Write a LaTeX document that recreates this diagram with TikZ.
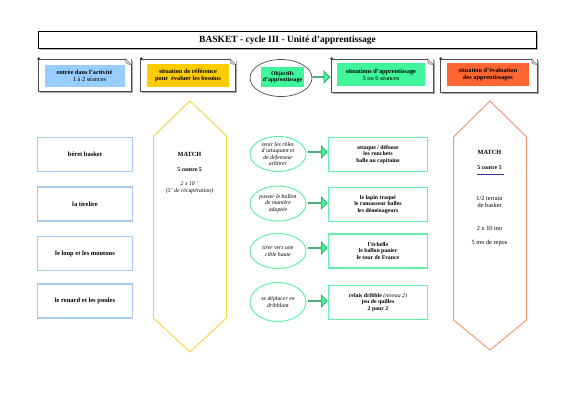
\documentclass[tikz,border=0pt]{standalone}
\usepackage{fontspec}
\setmainfont{Liberation Serif}
\usetikzlibrary{calc,shapes.geometric,shapes.arrows,shadows}
\definecolor{cblue}{HTML}{99CCFF}
\definecolor{corange}{HTML}{FFCC00}
\definecolor{cgreen}{HTML}{40F59A}
\definecolor{cred}{HTML}{FF6633}
\definecolor{gline}{HTML}{66EEA6}
\definecolor{bline}{HTML}{A6CCF2}
\definecolor{yline}{HTML}{F8D040}
\definecolor{oline}{HTML}{F4936A}
\definecolor{dgreen}{HTML}{2E8B57}
\tikzset{
  hdr/.style={draw=black!70, line width=0.6pt, fill=white, drop shadow={shadow xshift=1.5pt, shadow yshift=-1.5pt, fill=black!35, opacity=1}},
  hdrin/.style={inner sep=0pt, align=center, font=\fontsize{6.3}{7.3}\selectfont\bfseries},
  leftbox/.style={draw=bline, line width=1.3pt, minimum width=95pt, minimum height=34pt, font=\fontsize{6.5}{7.5}\selectfont\bfseries, align=center},
  greenbox/.style={draw=gline, line width=1.3pt, minimum width=99pt, minimum height=34pt, font=\fontsize{5.8}{6.8}\selectfont\bfseries, align=center},
  obj/.style={ellipse, draw=gline, line width=1pt, minimum width=56pt, minimum height=35pt, inner sep=0pt, font=\fontsize{5.8}{6.6}\selectfont\itshape, align=center},
  garrow/.style={single arrow, draw=dgreen, fill=cgreen, line width=0.5pt, minimum height=19pt, minimum width=12pt, single arrow head extend=2pt, inner sep=0pt},
  txt/.style={inner sep=0pt, align=center, font=\fontsize{6.3}{7.3}\selectfont},
}
\newcommand\foldpin[1]{%
  \fill[white] (#1.north east) -- ++(-6,0) -- ++(6,6) -- cycle;
  \filldraw[fill=black!15, draw=black!60, line width=0.4pt] ($(#1.north east)+(-6,0)$) -- ++(6,6) -- ++(-5,-1) -- cycle;
  \fill[black!75] ($(#1.north west)+(1,0)$) circle (1.6);
}
\begin{document}
\begin{tikzpicture}[x=1pt,y=-1pt]
\useasboundingbox (0,0) rectangle (565,400);
% title
\node[draw=black, line width=1.4pt, fill=white, minimum width=498pt, minimum height=17pt, font=\fontsize{9.5}{10.5}\selectfont\bfseries, drop shadow={shadow xshift=1pt, shadow yshift=-1pt, fill=black!30, opacity=1}] (title) at (287.5,40) {BASKET - cycle III - Unité d'apprentissage};

% header boxes
\node[hdr, minimum width=93pt, minimum height=32pt] (h1) at (84.5,75) {};
\node[hdrin, fill=cblue, minimum width=80pt, minimum height=22pt] (h1t) at (84.5,75.5) {entrée dans l'activité\\[-0.5pt]\mdseries\hspace*{10pt}1 à 2 séances};
\foldpin{h1}
\node[hdr, minimum width=95pt, minimum height=32pt] (h2) at (188,75) {};
\node[hdrin, fill=corange, minimum width=82pt, minimum height=23pt] (h2t) at (188,75.5) {situation de référence\\[-0.5pt]pour \ évaluer les besoins};
\foldpin{h2}
\node[ellipse, draw=black!70, line width=0.7pt, fill=white, minimum width=62pt, minimum height=37pt] (h3) at (281,78) {};
\node[hdrin, fill=cgreen, minimum width=43pt, minimum height=20pt, font=\fontsize{5.8}{6.8}\selectfont\bfseries] (h3t) at (282.5,77) {Objectifs\\d'apprentissage};
\node[garrow, minimum height=17pt] (h3a) at (321,77) {};
\node[hdr, minimum width=102pt, minimum height=33pt] (h4) at (382,75.5) {};
\node[hdrin, fill=cgreen, minimum width=88pt, minimum height=23pt] (h4t) at (381,74.5) {situations d'apprentissage\\[-0.5pt]\mdseries 5 ou 6 séances};
\foldpin{h4}
\node[hdr, minimum width=97pt, minimum height=33pt] (h5) at (488.5,75.5) {};
\node[hdrin, fill=cred, minimum width=82pt, minimum height=23pt] (h5t) at (488,74.5) {situation d'évaluation\\[-0.5pt]des apprentissages};
\foldpin{h5}
\draw[draw=none] (h3) -- (h3a) -- (h4);

% left boxes
\node[leftbox] (l1) at (85,154.5) {béret basket};
\node[leftbox] (l2) at (85,204) {la tirelire};
\node[leftbox] (l3) at (85,253.5) {le loup et les moutons};
\node[leftbox] (l4) at (85,301) {le renard et les poules};

% yellow hexagon
\draw[yline, line width=0.9pt] (190,101) -- (226.5,136) -- (226.5,318) -- (190,352) -- (153.5,318) -- (153.5,136) -- cycle;
\node[txt, font=\fontsize{6.3}{7.3}\selectfont\bfseries] (ym) at (189.5,154) {MATCH};
\node[txt, font=\fontsize{5.8}{6.8}\selectfont\bfseries] (yc) at (189.5,170) {5 contre 5};
\node[txt, font=\fontsize{5.8}{6.8}\selectfont\itshape] (yt) at (189.5,187.5) {2 x 10 '\\(5' de récupération)};

% objective ellipses
\node[obj] (e1) at (278,154) {tenir les rôles\\d'attaquant et\\de défenseur\\arbitrer};
\node[obj] (e2) at (278,203.5) {passer le ballon\\de manière\\adaptée};
\node[obj] (e3) at (278,251) {tirer vers une\\cible haute};
\node[obj, minimum height=39pt] (e4) at (278,302) {se déplacer en\\dribblant};

% green boxes
\node[greenbox] (g1) at (378,154.5) {attaque / défense\\les ronchets\\balle au capitaine};
\node[greenbox] (g2) at (378,204.5) {le lapin traqué\\le ramasseur balles\\les déménageurs};
\node[greenbox] (g3) at (378,251) {l'échelle\\le ballon panier\\le tour de France};
\node[greenbox] (g4) at (378,302.5) {relais dribble {\mdseries\itshape (niveau 2)}\\jeu de quilles\\2 pour 2};

% arrows
\node[garrow] (a1) at (317.5,152) {};
\node[garrow] (a2) at (317.5,203) {};
\node[garrow] (a3) at (317.5,248) {};
\node[garrow] (a4) at (317.5,301) {};
\draw[draw=none] (e1) -- (a1) -- (g1) (e2) -- (a2) -- (g2) (e3) -- (a3) -- (g3) (e4) -- (a4) -- (g4);

% orange hexagon
\draw[oline, line width=0.9pt] (490,101) -- (526.5,137) -- (526.5,320) -- (490,350) -- (453.5,320) -- (453.5,137) -- cycle;
\node[txt, font=\fontsize{6.3}{7.3}\selectfont\bfseries] (om) at (489.5,152.5) {MATCH};
\node[txt, font=\fontsize{5.8}{6.8}\selectfont\bfseries] (oc) at (489.5,167.5) {5 contre 5};
\coordinate (ol1) at (477,174.5);
\coordinate (ol2) at (504,174.5);
\draw[blue!55!black!80, line width=1pt] (ol1) -- (ol2);
\node[txt] (ot) at (489.5,202) {1/2 terrain\\de basket};
\node[txt] (od) at (489.5,228) {2 x 10 mn};
\node[txt] (or) at (489.5,243) {5 mn de repos};
\end{tikzpicture}
\end{document}
